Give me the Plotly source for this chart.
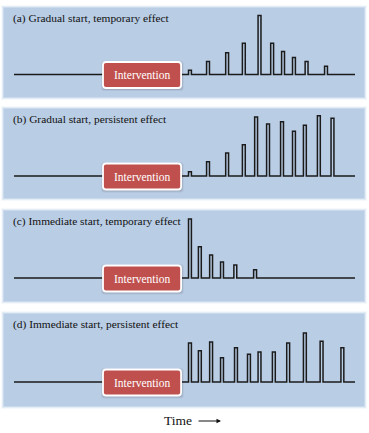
import plotly.graph_objects as go

# ---------------- data ----------------
titles = [
    "(a) Gradual start, temporary effect",
    "(b) Gradual start, persistent effect",
    "(c) Immediate start, temporary effect",
    "(d) Immediate start, persistent effect",
]
# pulse times (time units, 0..100) and effect sizes (arbitrary units)
times_a = [51.6, 56.9, 62.5, 67.4, 72.0, 75.7, 78.9, 82.1, 85.8, 91.5]
effect_a = [0.7, 2.2, 3.7, 5.3, 10.0, 5.3, 3.9, 2.9, 2.2, 1.4]

times_b = [51.6, 56.9, 62.5, 67.4, 71.0, 74.5, 78.6, 82.1, 85.3, 89.4, 93.4]
effect_b = [0.7, 2.4, 3.9, 5.3, 10.0, 8.8, 9.2, 7.6, 8.6, 10.2, 9.8]

times_c = [51.6, 54.5, 57.8, 61.0, 64.9, 70.7]
effect_c = [10.0, 5.3, 3.9, 2.7, 2.2, 1.4]

times_d = [51.6, 54.5, 57.8, 61.0, 65.1, 68.9, 72.0, 76.2, 80.4, 85.3, 90.2, 96.3]
effect_d = [6.6, 5.3, 6.8, 4.1, 5.8, 4.7, 5.1, 5.1, 6.6, 8.3, 6.9, 5.8]

series_start = 0.0
series_end = 100.0
intervention_start = 26.1
intervention_end = 49.0
intervention_label = "Intervention"
time_label = "Time"

# ---------------- layout geometry (pixels) ----------------
W, H = 369, 433
PX_PER_T = 3.41
X0_PX = 14.0
PX_PER_Y = 5.9
PULSE_W = 0.85
panels = [  # (top_px, bottom_px, baseline_px)
    (8, 97, 74.5),
    (109, 198, 176),
    (211, 301, 278),
    (314, 406, 382),
]
PANEL_LEFT, PANEL_RIGHT = 4, 364
PANEL_COLOR = "185,205,229"
FONT = "Liberation Serif, Times New Roman, serif"

data = [(times_a, effect_a), (times_b, effect_b), (times_c, effect_c), (times_d, effect_d)]


def pulse_path(times, effects):
    xs, ys = [series_start], [0.0]
    for t, h in zip(times, effects):
        l, r = t - PULSE_W / 2, t + PULSE_W / 2
        xs += [l, l, r, r]
        ys += [0.0, h, h, 0.0]
    xs.append(series_end)
    ys.append(0.0)
    return xs, ys


fig = go.Figure()
shapes = []
annotations = []

xr = [(0 - X0_PX) / PX_PER_T, (W - X0_PX) / PX_PER_T]
layout_axes = {}
for i, ((times, effects), (top, bot, base), title) in enumerate(zip(data, panels, titles)):
    yname = "y" if i == 0 else f"y{i+1}"
    ykey = "yaxis" if i == 0 else f"yaxis{i+1}"
    dom = [1 - bot / H, 1 - top / H]
    yr = [-(bot - base) / PX_PER_Y, (base - top) / PX_PER_Y]
    layout_axes[ykey] = dict(domain=dom, range=yr, visible=False, fixedrange=True,
                             anchor="x")

    # panel with soft edges
    for grow, op in [(3, 0.12), (2, 0.3), (1, 0.6), (0, 1.0)]:
        shapes.append(dict(type="rect", xref="paper", yref="paper",
                           x0=(PANEL_LEFT - grow) / W, x1=(PANEL_RIGHT + grow) / W,
                           y0=1 - (bot + grow) / H, y1=1 - (top - grow) / H,
                           fillcolor=f"rgba({PANEL_COLOR},{op})",
                           line=dict(width=0), layer="below"))

    xs, ys = pulse_path(times, effects)
    fig.add_trace(go.Scatter(x=xs, y=ys, mode="lines", xaxis="x", yaxis=yname,
                             line=dict(color="#1b1b1b", width=1.5),
                             hoverinfo="skip", showlegend=False))

    # intervention box (rounded) in data coords
    bh = 13 / PX_PER_Y
    yc = -0.5 / PX_PER_Y
    rx, ry = 3 / PX_PER_T, 3 / PX_PER_Y
    x0, x1 = intervention_start, intervention_end
    y0, y1 = yc - bh, yc + bh

    def rpath(x0, x1, y0, y1):
        return (f"M{x0+rx},{y0} L{x1-rx},{y0} Q{x1},{y0} {x1},{y0+ry} "
                f"L{x1},{y1-ry} Q{x1},{y1} {x1-rx},{y1} L{x0+rx},{y1} "
                f"Q{x0},{y1} {x0},{y1-ry} L{x0},{y0+ry} Q{x0},{y0} {x0+rx},{y0} Z")

    # shadow
    for g, op in [(2.2, 0.08), (1.2, 0.14)]:
        gx, gy = g / PX_PER_T, g / PX_PER_Y
        shapes.append(dict(type="path", xref="x", yref=yname,
                           path=rpath(x0 - gx + 0.1, x1 + gx + 0.1, y0 - gy - 0.15, y1 + gy - 0.15),
                           fillcolor=f"rgba(60,60,60,{op})", line=dict(width=0), layer="above"))
    shapes.append(dict(type="path", xref="x", yref=yname, path=rpath(x0, x1, y0, y1),
                       fillcolor="#C0504D", line=dict(color="white", width=1.8),
                       layer="above"))
    annotations.append(dict(x=(x0 + x1) / 2, y=yc, xref="x", yref=yname,
                            text=intervention_label, showarrow=False,
                            font=dict(family=FONT, size=11.5, color="white"),
                            xanchor="center", yanchor="middle"))
    # title
    annotations.append(dict(x=11 / W, y=1 - (top + 10.5) / H, xref="paper", yref="paper",
                            text=title, showarrow=False, xanchor="left", yanchor="middle",
                            font=dict(family=FONT, size=11.4, color="#111111")))

# Time label with arrow
annotations.append(dict(x=178 / W, y=1 - 420 / H, xref="paper", yref="paper",
                        text=time_label, showarrow=False, xanchor="center", yanchor="middle",
                        font=dict(family=FONT, size=13.5, color="#111111")))
annotations.append(dict(x=221 / W, y=1 - 421 / H, xref="paper", yref="paper",
                        ax=-24, ay=0, text="", showarrow=True, arrowhead=2,
                        arrowsize=0.9, arrowwidth=1, arrowcolor="#111111"))

fig.update_layout(
    width=W, height=H,
    margin=dict(l=0, r=0, t=0, b=0),
    paper_bgcolor="white", plot_bgcolor="rgba(0,0,0,0)",
    xaxis=dict(range=xr, visible=False, fixedrange=True, domain=[0, 1], anchor="y"),
    shapes=shapes, annotations=annotations, showlegend=False,
    **layout_axes,
)
fig.write_html("out.html", config={"displayModeBar": False},
               post_script="document.body.style.margin='0';document.body.style.overflow='hidden';")
